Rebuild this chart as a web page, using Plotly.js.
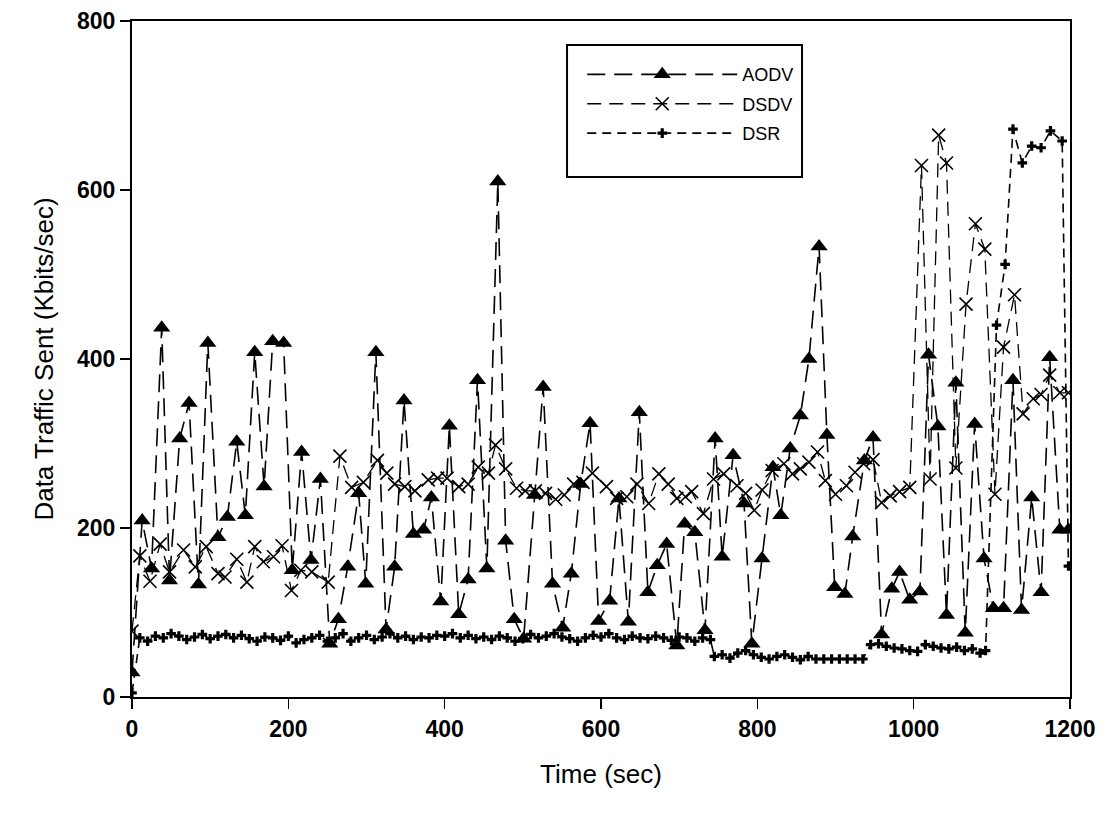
<!DOCTYPE html>
<html>
<head>
<meta charset="utf-8">
<script src="https://cdn.plot.ly/plotly-3.0.1.min.js"></script>
<style>
  html, body { margin: 0; padding: 0; background: #ffffff; }
  #chart { width: 1111px; height: 813px; }
</style>
</head>
<body>
<div id="chart"></div>
<script>
// ---- Data ----
const aodvTime = [0,13,25,38,48,61,73,85,97,110,122,134,145,157,169,180,194,205,217,229,241,253,264,276,290,299,
  312,325,336,348,360,373,383,395,406,418,430,442,454,468,478,489,501,515,526,538,551,562,574,586,597,
  611,623,635,649,660,672,684,697,707,720,733,746,755,769,783,793,806,820,830,842,855,866,879,889,899,
  912,922,937,948,959,972,982,995,1008,1019,1031,1042,1054,1066,1078,1090,1102,1115,1127,1138,1151,1163,1174,1187,1198];
const aodvRate = [29,209,152,437,138,306,348,133,419,189,213,302,215,408,249,421,419,150,290,162,258,63,92,154,241,134,
  408,80,154,351,193,198,236,113,321,98,139,375,152,610,185,92,69,239,367,134,82,146,252,324,90,
  114,235,89,337,124,156,181,61,205,195,79,306,166,286,229,63,164,272,215,294,333,400,533,310,130,
  122,190,280,307,74,128,148,115,125,405,320,97,372,76,323,164,105,105,375,103,236,124,402,198,198];

const dsdvTime = [0,10,23,36,48,66,81,95,110,119,134,147,157,168,181,192,204,216,230,251,266,281,296,
  314,326,336,349,362,379,391,403,418,430,443,456,465,478,492,503,516,529,542,553,565,577,589,
  607,620,633,646,661,674,686,697,708,716,731,744,757,774,785,796,806,819,834,845,855,866,877,887,900,
  914,925,936,948,959,970,982,995,1010,1021,1032,1042,1054,1067,1079,1091,1104,1115,1129,1140,1153,1163,1174,1187,1198];
const dsdvRate = [78,167,137,181,148,174,154,178,146,142,163,136,178,160,166,179,126,150,148,136,285,248,254,
  280,265,252,249,244,257,259,259,249,252,272,265,298,270,247,244,244,241,234,239,252,254,265,
  249,235,237,252,229,264,252,235,237,243,217,258,264,250,241,221,245,268,276,264,270,278,290,256,240,
  250,266,276,281,230,238,243,248,629,258,665,632,271,465,560,530,240,414,476,335,353,358,381,360,360];

const dsrTime = [0,10,20,30,40,50,60,70,80,90,100,110,120,130,140,150,160,170,180,190,200,210,220,230,240,250,
  260,270,280,290,300,310,320,330,340,350,360,370,380,390,400,410,420,430,440,450,460,470,480,490,500,
  510,520,530,540,550,560,570,580,590,600,610,620,630,640,650,660,670,680,690,700,710,720,730,740,
  745,755,765,775,785,795,805,815,825,835,845,855,865,875,885,895,905,915,925,935,
  945,955,965,975,985,995,1005,1015,1025,1035,1045,1055,1065,1075,1085,1092,
  1106,1117,1127,1139,1151,1163,1175,1190,1198];
const dsrRate = [5,70,66,72,70,75,72,68,71,74,69,72,74,70,73,69,66,71,70,67,72,64,68,70,73,66,
  70,75,66,70,73,68,71,75,70,72,68,71,70,73,72,75,70,73,69,71,68,72,70,66,69,
  74,70,72,75,71,69,66,70,73,71,75,70,68,72,70,69,72,70,67,71,70,66,70,68,
  48,50,46,52,55,50,47,45,48,50,47,44,48,45,45,45,45,45,45,45,
  62,63,60,58,57,55,54,62,60,58,57,59,55,57,52,55,
  440,512,672,632,652,650,670,658,155];

const seriesNames = ["AODV", "DSDV", "DSR"];
const xTicks = [0, 200, 400, 600, 800, 1000, 1200];
const yTicks = [0, 200, 400, 600, 800];

const FONT = "Liberation Sans, Arial, sans-serif";

const traces = [
  {
    x: aodvTime, y: aodvRate, name: seriesNames[0], legendgroup: "a", type: "scatter", mode: "lines+markers",
    line: { color: "#000", width: 1.6, dash: "18px,9px" },
    marker: { symbol: "triangle-up", size: 15, color: "#000", line: { color: "#000", width: 0 } }
  },
  {
    x: dsdvTime, y: dsdvRate, name: seriesNames[1], legendgroup: "b", type: "scatter", mode: "lines+markers",
    line: { color: "#000", width: 1.3, dash: "14px,8px" },
    marker: { symbol: "x-thin-open", size: 13, color: "#000", line: { color: "#000", width: 1.6 } }
  },
  {
    x: dsrTime, y: dsrRate, name: seriesNames[2], legendgroup: "c", type: "scatter", mode: "lines+markers",
    line: { color: "#000", width: 1.6, dash: "9px,6px" },
    marker: { symbol: "cross", size: 8, color: "#000", line: { width: 0 } }
  }
];

const layout = {
  width: 1111, height: 813,
  paper_bgcolor: "#fff", plot_bgcolor: "#fff",
  margin: { l: 132, r: 41, t: 21, b: 116 },
  showlegend: true,
  legend: {
    x: 0.48, y: 0.948, xanchor: "left", yanchor: "top",
    bgcolor: "rgba(0,0,0,0)", borderwidth: 0,
    font: { family: FONT, size: 18, color: "#000" },
    itemwidth: 150, tracegroupgap: 3,
    itemsizing: "trace"
  },
  shapes: [
    { type: "rect", xref: "paper", yref: "paper", x0: 0.4638, x1: 0.7143, y0: 0.7692, y1: 0.9645,
      line: { color: "#000", width: 2 }, fillcolor: "rgba(0,0,0,0)", layer: "above" }
  ],
  xaxis: {
    range: [0, 1200], tickvals: xTicks, ticktext: xTicks.map(String),
    ticks: "outside", ticklen: 10, tickwidth: 1.5, tickcolor: "#000",
    showline: true, linecolor: "#000", linewidth: 2, mirror: true,
    showgrid: false, zeroline: false,
    tickfont: { family: FONT, size: 23, color: "#000", weight: "bold" },
    title: { text: "Time (sec)", font: { family: FONT, size: 26, color: "#000" }, standoff: 24 }
  },
  yaxis: {
    range: [0, 800], tickvals: yTicks, ticktext: yTicks.map(String),
    ticks: "outside", ticklen: 10, tickwidth: 1.5, tickcolor: "#000",
    showline: true, linecolor: "#000", linewidth: 2, mirror: true,
    showgrid: false, zeroline: false,
    tickfont: { family: FONT, size: 23, color: "#000", weight: "bold" },
    title: { text: "Data Traffic Sent (Kbits/sec)", font: { family: FONT, size: 26, color: "#000" }, standoff: 16 }
  }
};

Plotly.newPlot("chart", traces, layout, { displayModeBar: false, staticPlot: true });
</script>
</body>
</html>
